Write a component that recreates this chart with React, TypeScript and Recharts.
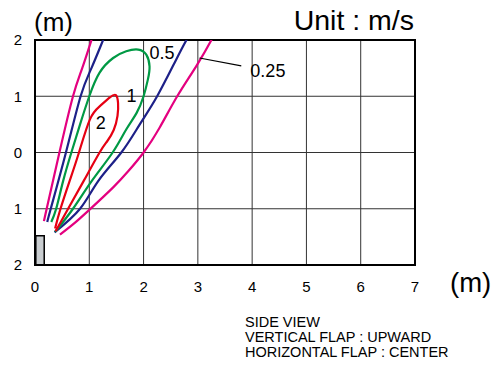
import React from 'react';
import {
  LineChart,
  Line,
  XAxis,
  YAxis,
  CartesianGrid,
  ReferenceArea,
  ReferenceLine,
  ReferenceDot,
} from 'recharts';

const FONT = '"Liberation Sans", Arial, Helvetica, sans-serif';

const xTicks = [0, 1, 2, 3, 4, 5, 6, 7];
const yTicks = [-2, -1, 0, 1, 2];

// velocity contours (x, y) in metres
const magentaLeft = [
  [0.165, -1.22], [0.215, -1.0], [0.45, 0], [0.7, 1.0], [0.87, 1.5], [1.04, 2.0], [1.09, 2.15],
];
const magentaRight = [
  [0.46, -1.46], [0.71, -1.27], [1.0, -1.02], [1.44, -0.62], [1.72, -0.33], [2.0, 0],
  [2.3, 0.45], [2.62, 1.0], [2.98, 1.55], [3.25, 2.0], [3.31, 2.12],
];
const blueLeft = [
  [0.226, -1.235], [0.29, -1.0], [0.57, 0], [0.84, 1.0], [1.04, 1.5], [1.255, 2.0], [1.31, 2.12],
];
const blueRight = [
  [0.36, -1.42], [0.83, -1.0], [1.17, -0.5], [1.59, 0], [1.93, 0.5], [2.25, 1.0],
  [2.6, 1.65], [2.79, 2.0], [2.85, 2.1],
];
const greenLoop = [
  [0.3, -1.235], [0.39, -1.0], [0.52, -0.5], [0.67, 0], [0.83, 0.5], [1.0, 1.0], [1.19, 1.42],
  [1.44, 1.68], [1.68, 1.8], [1.9, 1.83], [2.05, 1.74], [2.11, 1.53], [2.08, 1.3], [2.0, 1.0],
  [1.87, 0.7], [1.68, 0.41], [1.43, 0], [1.05, -0.5], [0.7, -1.0], [0.37, -1.41],
];
const redLoop = [
  [0.37, -1.35], [0.47, -1.0], [0.64, -0.5], [0.81, 0], [1.01, 0.585], [1.19, 0.82],
  [1.38, 0.98], [1.49, 1.02], [1.53, 0.88], [1.52, 0.65], [1.45, 0.4], [1.33, 0.2],
  [1.19, 0], [0.9, -0.5], [0.61, -1.0], [0.38, -1.4],
];

const contourLabels = [
  { text: '0.5', x: 2.34, y: 1.78 },
  { text: '1', x: 1.78, y: 1.01 },
  { text: '2', x: 1.21, y: 0.53 },
  { text: '0.25', x: 4.29, y: 1.45 },
];
const leader = [
  { x: 3.03, y: 1.68 },
  { x: 3.8, y: 1.54 },
];
const unitBox = { x1: 0.015, x2: 0.17, y1: -2, y2: -1.48 };
const noteLines = ['SIDE VIEW', 'VERTICAL FLAP : UPWARD', 'HORIZONTAL FLAP : CENTER'];

const toRows = (pts: number[][]) => pts.map(([x, y]) => ({ x, y }));

const series = [
  { id: 'mL', pts: magentaLeft, color: '#e4007f' },
  { id: 'mR', pts: magentaRight, color: '#e4007f' },
  { id: 'bL', pts: blueLeft, color: '#1d2088' },
  { id: 'bR', pts: blueRight, color: '#1d2088' },
  { id: 'g', pts: greenLoop, color: '#009944' },
  { id: 'r', pts: redLoop, color: '#e60012' },
];

export default function App() {
  return (
    <div style={{ position: 'absolute', left: 0, top: 0, width: 499, height: 365, background: '#fff' }}>
      <LineChart
        width={499}
        height={365}
        margin={{ top: 40, right: 84, bottom: 70, left: 5 }}
      >
        <CartesianGrid stroke="#333" strokeWidth={1} />
        <XAxis
          type="number"
          dataKey="x"
          domain={[0, 7]}
          ticks={xTicks}
          allowDataOverflow
          axisLine={false}
          tickLine={false}
          tickSize={0}
          tickMargin={16}
          height={30}
          tick={{ fontSize: 15, fill: '#000', fontFamily: FONT }}
        />
        <YAxis
          type="number"
          dataKey="y"
          domain={[-2, 2]}
          ticks={yTicks}
          allowDataOverflow
          axisLine={false}
          tickLine={false}
          tickSize={0}
          tickMargin={13}
          width={30}
          tickFormatter={(v: number) => String(Math.abs(v))}
          tick={{ fontSize: 15, fill: '#000', fontFamily: FONT }}
        />
        <ReferenceArea
          x1={unitBox.x1}
          x2={unitBox.x2}
          y1={unitBox.y1}
          y2={unitBox.y2}
          fill="#c9cdd0"
          fillOpacity={1}
          stroke="#000"
          strokeWidth={1.5}
        />
        <ReferenceArea x1={0} x2={7} y1={-2} y2={2} fill="none" stroke="#000" strokeWidth={2} />
        {series.map((s) => (
          <Line
            key={s.id}
            data={toRows(s.pts)}
            dataKey="y"
            type="natural"
            stroke={s.color}
            strokeWidth={2.2}
            dot={false}
            activeDot={false}
            isAnimationActive={false}
          />
        ))}
        <ReferenceLine segment={leader} stroke="#000" strokeWidth={1.2} />
        {contourLabels.map((l) => (
          <ReferenceDot
            key={l.text}
            x={l.x}
            y={l.y}
            r={0}
            fill="none"
            stroke="none"
            label={{ value: l.text, position: 'center', fontSize: 18, fill: '#000', fontFamily: FONT }}
          />
        ))}
      </LineChart>
      <svg
        width={499}
        height={365}
        style={{ position: 'absolute', left: 0, top: 0, pointerEvents: 'none' }}
        fontFamily={FONT}
      >
        <text x={34} y={31} fontSize={26} fill="#000">(m)</text>
        <text x={414} y={29.5} fontSize={28.5} fill="#000" textAnchor="end">Unit : m/s</text>
        <text x={450} y={292} fontSize={27.5} fill="#000">(m)</text>
        {noteLines.map((t, i) => (
          <text key={t} x={245} y={327 + i * 15} fontSize={14.5} fill="#000">{t}</text>
        ))}
      </svg>
    </div>
  );
}
